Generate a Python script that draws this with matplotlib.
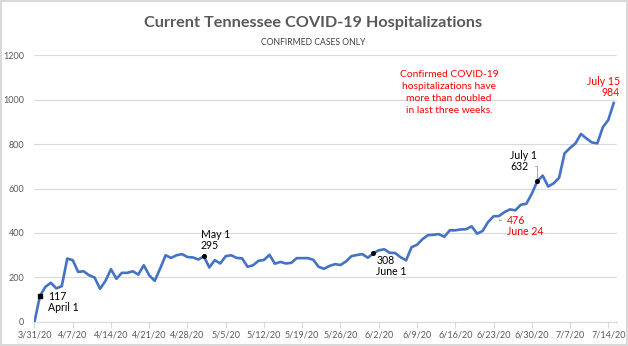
import numpy as np
import pandas as pd
import matplotlib
matplotlib.use("Agg")
import matplotlib.pyplot as plt

# 每日住院人数 3/31/20 - 7/15/20
start_date = "2020-03-31"
hospitalized = [
    0, 117, 158, 176, 151, 161, 285, 278, 225, 228,
    210, 200, 149, 185, 237, 194, 221, 221, 228, 213,
    255, 210, 185, 240, 300, 288, 300, 305, 292, 290,
    281, 295, 245, 278, 263, 296, 300, 288, 286, 248,
    255, 275, 279, 302, 262, 270, 263, 266, 287, 287,
    287, 280, 248, 239, 252, 260, 256, 272, 296, 301,
    305, 289, 308, 322, 327, 311, 310, 291, 277, 336,
    347, 372, 390, 392, 395, 383, 412, 412, 416, 417,
    430, 397, 409, 449, 475, 476, 494, 506, 502, 527,
    531, 576, 632, 658, 609, 623, 648, 758, 782, 803,
    845, 825, 807, 803, 875, 908, 984,
]
y_ticks = [0, 200, 400, 600, 800, 1000, 1200]
title = "Current Tennessee COVID-19 Hospitalizations"
subtitle = "CONFIRMED CASES ONLY"
note = "Confirmed COVID-19\nhospitalizations have\nmore than doubled\nin last three weeks."

dates = pd.date_range(start_date, periods=len(hospitalized), freq="D")
x = np.arange(len(hospitalized))
tick_pos = np.arange(0, 106, 7)
tick_labels = [f"{d.month}/{d.day}/{d.strftime('%y')}" for d in dates[tick_pos]]

plt.rcParams["font.family"] = ["Lato", "DejaVu Sans"]
GRAY = "#595959"
RED = "#FF0000"
BLUE = "#4472C4"

fig = plt.figure(figsize=(6.28, 3.46), dpi=100)
fig.patch.set_edgecolor("#d9d9d9")
fig.patch.set_linewidth(1.5)
ax = fig.add_axes([0.054, 0.0694, 0.9285, 0.7716])

ax.plot(x, hospitalized, color=BLUE, lw=1.9, solid_joinstyle="round", zorder=3)
ax.set_xlim(-0.1, 106.6)
ax.set_ylim(0, 1200)
ax.set_yticks(y_ticks)
ax.set_xticks(tick_pos)
ax.set_xticklabels(tick_labels)
ax.grid(axis="y", color="#d9d9d9", lw=0.8)
ax.set_axisbelow(True)
for s in ["top", "right", "left"]:
    ax.spines[s].set_visible(False)
ax.spines["bottom"].set_color("#d9d9d9")
ax.tick_params(axis="y", length=0, labelsize=6.5, labelcolor=GRAY, pad=7)
ax.tick_params(axis="x", length=4, color="#d9d9d9", labelsize=6.5,
               labelcolor=GRAY, pad=2)

fig.text(0.499, 0.933, title, ha="center", va="center", fontsize=11.7,
         fontweight="bold", color=GRAY)
fig.text(0.499, 0.878, subtitle, ha="center", va="center", fontsize=6.2,
         color="#404040")

# 标注点
def mark(day, txt, dx, dy, ha, va, color="black", marker="s"):
    ax.plot(day, hospitalized[day], marker=marker, ms=2.6, color="black", zorder=4)
    ax.annotate(txt, (day, hospitalized[day]), xytext=(dx, dy),
                textcoords="offset pixels", ha=ha, va=va, fontsize=7.6,
                color=color, linespacing=1.0)

mark(1, "117\nApril 1", 8, 5, "left", "top")
mark(31, "May 1\n295", -3, 5, "left", "bottom", marker="o")
mark(62, "308\nJune 1", 3, -2, "left", "top", marker="o")
mark(85, "476\nJune 24", 8, 1, "left", "top", color=RED, marker="")
mark(92, "July 1\n632", -27, 31, "left", "top", marker="o")
mark(106, "July 15\n984", 6, 5, "right", "bottom", color=RED, marker="")

# 引线
ax.annotate("", (85, hospitalized[85]), xytext=(5, -4), textcoords="offset pixels",
            arrowprops=dict(arrowstyle="-", color="#a6a6a6", lw=0.7,
                            connectionstyle="angle,angleA=0,angleB=90,rad=0"))
ax.annotate("", (92, hospitalized[92]), xytext=(-5, 15), textcoords="offset pixels",
            arrowprops=dict(arrowstyle="-", color="#a6a6a6", lw=0.7,
                            connectionstyle="angle,angleA=0,angleB=90,rad=0"))

fig.text(0.715, 0.798, note, ha="center", va="top", fontsize=7.4, color=RED,
         linespacing=1.42)

fig.savefig("out.png", dpi=100)
